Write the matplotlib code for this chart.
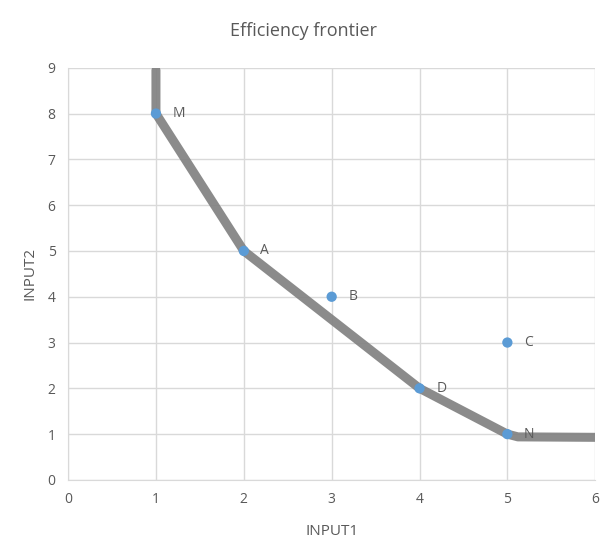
import matplotlib
matplotlib.use("Agg")
import matplotlib.pyplot as plt

# ============================================
# Data
# ============================================

names  = ["M", "A", "B", "C", "D", "N"]
input1 = [1, 2, 3, 5, 4, 5]
input2 = [8, 5, 4, 3, 2, 1]

# hand-drawn frontier
frontier_x = [1.0, 1.0, 2.0, 4.0, 5.0, 5.12, 6.0]
frontier_y = [8.95, 8.0, 5.0, 2.0, 1.0, 0.94, 0.93]

TEXT = "#595959"
GRID = "#d9d9d9"
BLUE = "#5b9bd5"

plt.rcParams["font.family"] = ["Open Sans", "DejaVu Sans"]

fig = plt.figure(figsize=(6.08, 5.6), dpi=100)
ax = fig.add_axes([0.112, 0.143, 0.867, 0.736])

ax.plot(frontier_x, frontier_y, color="#7f7f7f", lw=6.5, alpha=0.9,
        solid_capstyle="round", solid_joinstyle="round", zorder=2)
ax.scatter(input1, input2, s=55, color=BLUE, zorder=3, edgecolors="none")

for n, x, y in zip(names, input1, input2):
    ax.annotate(n, (x, y), xytext=(12, 0), textcoords="offset points",
                va="center", ha="left", fontsize=10, color=TEXT)

ax.set_xlim(0, 6)
ax.set_ylim(0, 9)
ax.set_xticks(range(0, 7))
ax.set_yticks(range(0, 10))
ax.grid(color=GRID, lw=1)
ax.set_axisbelow(True)
for side in ["top", "right"]:
    ax.spines[side].set_visible(False)
for side in ["left", "bottom"]:
    ax.spines[side].set_color(GRID)
ax.tick_params(length=0, colors=TEXT, labelsize=10, pad=9)

ax.set_xlabel("INPUT1", color=TEXT, fontsize=11, labelpad=12)
ax.set_ylabel("INPUT2", color=TEXT, fontsize=11, labelpad=7)
fig.text(0.5, 0.945, "Efficiency frontier", ha="center", va="center",
         fontsize=13, color=TEXT)

fig.savefig("out.png", dpi=100)
